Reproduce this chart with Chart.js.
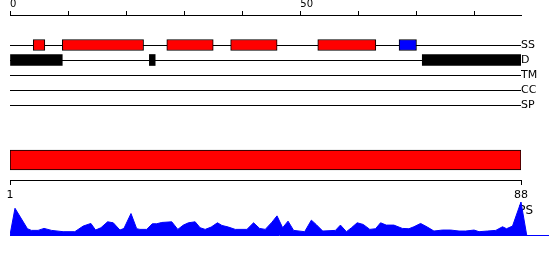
<!DOCTYPE html>
<html><head><meta charset="utf-8">
<script src="https://cdn.jsdelivr.net/npm/chart.js@4/dist/chart.umd.min.js"></script>
<style>
html,body{margin:0;padding:0;background:#fff;}
#wrap{position:relative;width:550px;height:260px;overflow:hidden;background:#fff;}
canvas{position:absolute;left:0;}
</style></head><body>
<div id="wrap">
<canvas id="tracks" width="550" height="112" style="top:0px"></canvas>
<canvas id="seq" width="550" height="65" style="top:140px"></canvas>
<canvas id="ps" width="550" height="41" style="top:195px"></canvas>
</div>
<script>
const seqLength = 88;
const trackNames = ['SS', 'D', 'TM', 'CC', 'SP'];
const topTickLabels = [0, 50];
const helixRanges = [[4, 6], [9, 23], [27, 35], [38, 46], [53, 63]];
const strandRanges = [[67, 70]];
const disorderRanges = [[0, 9], [24, 25], [71, 88]];
const seqRange = [1, 88];
const seqTickLabels = [1, 88];
const psPos = [1.00,1.85,3.97,4.65,5.78,6.80,8.07,10.04,12.04,13.46,
  14.77,15.57,16.48,17.62,18.58,19.72,20.40,21.60,22.57,23.13,
  24.28,25.23,25.98,26.84,28.54,29.57,30.52,31.38,32.52,33.37,
  34.23,35.25,36.32,37.08,38.20,39.35,41.34,42.47,43.49,44.46,
  45.61,46.46,47.42,48.34,49.29,51.17,52.31,53.12,54.24,56.41,
  57.26,58.28,59.14,60.11,61.14,62.26,63.24,64.09,65.06,66.36,
  67.79,68.92,69.77,70.91,72.06,73.18,74.62,76.03,77.45,78.59,
  80.01,80.86,82.30,83.71,84.86,85.54,86.56,88.00,88.97];
const psValues = [0,0.81,0.19,0.14,0.14,0.20,0.14,0.10,0.10,0.27,
  0.35,0.15,0.22,0.40,0.37,0.15,0.20,0.65,0.19,0.17,
  0.17,0.34,0.34,0.38,0.40,0.17,0.30,0.37,0.40,0.22,
  0.17,0.24,0.37,0.29,0.24,0.17,0.17,0.37,0.20,0.17,
  0.39,0.58,0.22,0.42,0.14,0.10,0.45,0.32,0.12,0.14,
  0.30,0.10,0.22,0.37,0.32,0.17,0.19,0.37,0.30,0.30,
  0.20,0.19,0.25,0.35,0.24,0.12,0.15,0.15,0.12,0.12,
  0.15,0.10,0.12,0.14,0.25,0.19,0.27,1.00,0];
const psLabel = 'PS';
const psLabelValue = 0.72;
const psAxisMax = 92.6;

Chart.defaults.font.family = "'DejaVu Sans', sans-serif";
Chart.defaults.color = '#000';

const common = {
  responsive: false, animation: false, devicePixelRatio: 1, events: [],
  plugins: { legend: { display: false }, tooltip: { enabled: false } }
};

// Feature tracks
const catLabels = ['', ''].concat(trackNames);
const barStyle = { borderSkipped: false, barThickness: 11, grouped: false };
new Chart(document.getElementById('tracks'), {
  type: 'bar',
  data: {
    labels: catLabels,
    datasets: [
      Object.assign({ data: helixRanges.map(r => ({ y: 'SS', x: r })), backgroundColor: '#ff0000', borderColor: '#000', borderWidth: 1 }, barStyle),
      Object.assign({ data: strandRanges.map(r => ({ y: 'SS', x: r })), backgroundColor: '#0000ff', borderColor: '#000', borderWidth: 1 }, barStyle),
      Object.assign({ data: disorderRanges.map(r => ({ y: 'D', x: r })), backgroundColor: '#000', borderColor: '#000', borderWidth: 0 }, barStyle)
    ]
  },
  options: Object.assign({}, common, {
    indexAxis: 'y',
    layout: { padding: { left: 10, right: 0, top: 0, bottom: 7 } },
    scales: {
      x: {
        type: 'linear', position: 'top', min: 0, max: seqLength,
        afterFit: s => { s.height = 15; },
        ticks: { stepSize: 10, includeBounds: false, autoSkip: false, maxRotation: 0, align: 'start', padding: 1, font: { size: 10 },
          callback: v => topTickLabels.includes(v) ? String(v) : '' },
        grid: { drawOnChartArea: false, drawTicks: true, tickLength: 4, color: '#000' },
        border: { display: true, color: '#000', width: 1 }
      },
      y: {
        type: 'category', position: 'right', offset: false,
        afterFit: s => { s.width = 29; },
        grid: { offset: false, drawTicks: false, color: c => (c.tick && c.tick.label) ? '#000' : 'rgba(0,0,0,0)' },
        border: { display: false },
        ticks: { padding: 0, autoSkip: false, font: { size: 11 } }
      }
    }
  })
});

// Sequence bar with residue axis
new Chart(document.getElementById('seq'), {
  type: 'bar',
  data: {
    labels: ['seq'],
    datasets: [{ data: [{ y: 'seq', x: seqRange }], backgroundColor: '#ff0000', borderColor: '#000', borderWidth: 1, borderSkipped: false, barThickness: 20 }]
  },
  options: Object.assign({}, common, {
    indexAxis: 'y',
    layout: { padding: { left: 10, right: 29, top: 0, bottom: 0 } },
    scales: {
      x: {
        type: 'linear', position: 'bottom', min: seqRange[0], max: seqRange[1],
        afterBuildTicks: s => { s.ticks = seqTickLabels.map(v => ({ value: v })); },
        afterFit: s => { s.height = 25; },
        ticks: { autoSkip: false, maxRotation: 0, padding: 4, font: { size: 11 } },
        grid: { drawOnChartArea: false, tickLength: 5, color: '#000' },
        border: { display: true, color: '#000' }
      },
      y: { display: false, offset: true }
    }
  })
});

// PS profile
new Chart(document.getElementById('ps'), {
  type: 'line',
  data: {
    datasets: [{ data: psPos.map((p, i) => ({ x: p, y: psValues[i] })), fill: 'origin', backgroundColor: '#0000ff', borderColor: '#0000ff', borderWidth: 1, pointRadius: 0, tension: 0 }]
  },
  options: Object.assign({}, common, {
    layout: { padding: { left: 10, right: 2, top: 7, bottom: 1 } },
    scales: {
      x: {
        type: 'linear', min: 1, max: psAxisMax,
        afterFit: s => { s.height = 0; s.paddingLeft = 0; s.paddingRight = 0; },
        ticks: { display: false }, grid: { display: false, drawTicks: false },
        border: { display: true, color: '#0000ff' }
      },
      y: {
        type: 'linear', position: 'right', min: 0, max: 1,
        afterFit: s => { s.width = 0; s.paddingTop = 0; s.paddingBottom = 0; },
        afterBuildTicks: s => { s.ticks = [{ value: psLabelValue }]; },
        ticks: { mirror: true, padding: -15, font: { size: 12 }, callback: () => psLabel },
        grid: { display: false, drawTicks: false },
        border: { display: false }
      }
    }
  })
});
</script>
</body></html>
